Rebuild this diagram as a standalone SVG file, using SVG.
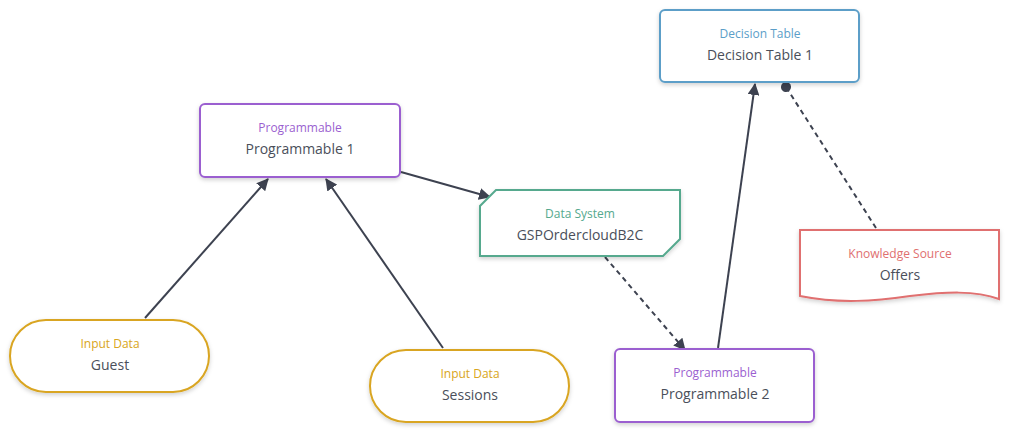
<svg xmlns="http://www.w3.org/2000/svg" width="1010" height="433" viewBox="0 0 1010 433">
<defs>
<filter id="sh" x="-10%" y="-10%" width="120%" height="130%">
<feDropShadow dx="0" dy="2" stdDeviation="2" flood-color="#000" flood-opacity="0.18"/>
</filter>
<marker id="arr" viewBox="0 0 12 12" refX="11" refY="6" markerWidth="12" markerHeight="12" markerUnits="userSpaceOnUse" orient="auto">
<path d="M0,0 L12,6 L0,12 Z" fill="#3d4250"/>
</marker>
<marker id="dot" viewBox="0 0 12 12" refX="6" refY="6" markerWidth="11" markerHeight="11" markerUnits="userSpaceOnUse" orient="auto">
<circle cx="6" cy="6" r="5.5" fill="#3d4250"/>
</marker>
</defs>
<style>
.box{fill:#fff;stroke-width:2;filter:url(#sh)}
.t{font-family:"Open Sans","Noto Sans","Liberation Sans",sans-serif;font-size:12px;text-anchor:middle}
.n{font-family:"Open Sans","Noto Sans","Liberation Sans",sans-serif;font-size:14px;fill:#4a4f5a;text-anchor:middle}
.c{fill:none;stroke:#3d4250;stroke-width:2}
.d{stroke-dasharray:5,4}
</style>
<rect width="1010" height="433" fill="#fff"/>
<g id="connectors">
<line class="c" x1="145" y1="318" x2="268" y2="179" marker-end="url(#arr)"/>
<line class="c" x1="443" y1="348" x2="326" y2="179" marker-end="url(#arr)"/>
<line class="c" x1="401" y1="172" x2="490" y2="197" marker-end="url(#arr)"/>
<line class="c d" x1="605" y1="257" x2="685" y2="350" marker-end="url(#arr)"/>
<line class="c" x1="718" y1="348" x2="755" y2="84" marker-end="url(#arr)"/>
<line class="c d" x1="876" y1="228" x2="786" y2="87" marker-end="url(#dot)"/>
</g>
<g id="programmable1">
<rect class="box" x="200" y="104" width="200" height="73" rx="5" stroke="#9b5fd0"/>
<text class="t" x="300" y="132" fill="#9b5fd0">Programmable</text>
<text class="n" x="300" y="154">Programmable 1</text>
</g>
<g id="datasystem">
<path class="box" d="M496,190 L680,190 L680,239 L663,256 L480,256 L480,206 Z" stroke="#56a98e"/>
<text class="t" x="580" y="218" fill="#56a98e">Data System</text>
<text class="n" x="580" y="240">GSPOrdercloudB2C</text>
</g>
<g id="decisiontable">
<rect class="box" x="660" y="10" width="199" height="72" rx="5" stroke="#5b9ec8"/>
<text class="t" x="760" y="38" fill="#5b9ec8">Decision Table</text>
<text class="n" x="760" y="60">Decision Table 1</text>
</g>
<g id="knowledgesource">
<path class="box" d="M800,230 L999,230 L999,299 C975,290 945,292 910,296 C875,301 840,304 800,296 Z" stroke="#e07070"/>
<text class="t" x="900" y="258" fill="#e07070">Knowledge Source</text>
<text class="n" x="900" y="280">Offers</text>
</g>
<g id="guest">
<rect class="box" x="10" y="320" width="199" height="72" rx="36" stroke="#d9a520"/>
<text class="t" x="110" y="348" fill="#d9a520">Input Data</text>
<text class="n" x="110" y="370">Guest</text>
</g>
<g id="sessions">
<rect class="box" x="370" y="350" width="199" height="72" rx="36" stroke="#d9a520"/>
<text class="t" x="470" y="378" fill="#d9a520">Input Data</text>
<text class="n" x="470" y="400">Sessions</text>
</g>
<g id="programmable2">
<rect class="box" x="615" y="349" width="199" height="73" rx="5" stroke="#9b5fd0"/>
<text class="t" x="715" y="377" fill="#9b5fd0">Programmable</text>
<text class="n" x="715" y="399">Programmable 2</text>
</g>
</svg>
